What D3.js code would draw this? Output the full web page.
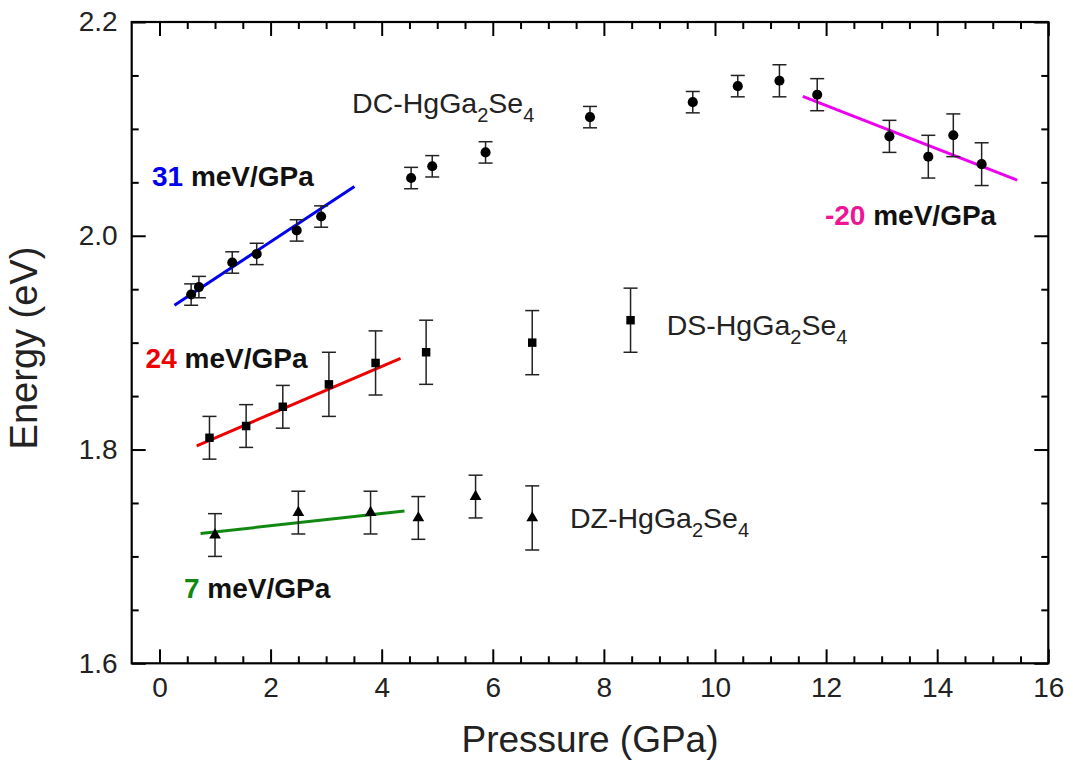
<!DOCTYPE html>
<html>
<head>
<meta charset="utf-8">
<script src="https://cdn.jsdelivr.net/npm/d3@7"></script>
<style>
  body { margin: 0; background: #ffffff; }
  svg text { font-family: "Liberation Sans", Arial, sans-serif; }
</style>
</head>
<body>
<div id="chart"></div>
<script>
'use strict';

// DC-HgGa2Se4 (circles)
var dcP   = [0.57, 0.71, 1.31, 1.75, 2.47, 2.91, 4.53, 4.91, 5.87, 7.75, 9.60, 10.41, 11.16, 11.84, 13.14, 13.84, 14.29, 14.80];
var dcE   = [1.945, 1.952, 1.975, 1.983, 2.005, 2.018, 2.054, 2.065, 2.078, 2.111, 2.125, 2.140, 2.145, 2.132, 2.093, 2.074, 2.094, 2.067];
var dcErr = [0.01, 0.01, 0.01, 0.01, 0.01, 0.01, 0.01, 0.01, 0.01, 0.01, 0.01, 0.01, 0.015, 0.015, 0.015, 0.02, 0.02, 0.02];

// DS-HgGa2Se4 (squares)
var dsP   = [0.90, 1.56, 2.22, 3.05, 3.89, 4.80, 6.71, 8.48];
var dsE   = [1.811, 1.822, 1.840, 1.861, 1.881, 1.891, 1.900, 1.921];
var dsErr = [0.02, 0.02, 0.02, 0.03, 0.03, 0.03, 0.03, 0.03];

// DZ-HgGa2Se4 (triangles)
var dzP   = [1.00, 2.50, 3.80, 4.66, 5.69, 6.71];
var dzE   = [1.720, 1.741, 1.741, 1.736, 1.756, 1.736];
var dzErr = [0.02, 0.02, 0.02, 0.02, 0.02, 0.03];

// linear fits: pressure range and energy at both ends
var fitP = [[0.27, 3.51], [0.67, 4.34], [0.74, 4.41], [11.58, 15.44]];
var fitE = [[1.935, 2.046], [1.8035, 1.8853], [1.7214, 1.7426], [2.1304, 2.0521]];
var fitSlope = ['31', '24', '7', '-20'];

var xTicks = [0, 2, 4, 6, 8, 10, 12, 14, 16];
var yTicks = [1.6, 1.8, 2.0, 2.2];

var W = 1073, H = 765,
    mLeft = 131.7, mRight = 1048.3, mTop = 22, mBottom = 663.3;

var fitColors = ['#0000ee', '#ee0000', '#118811', '#ee00ee'],
    slopeColors = ['#0000ee', '#ee0000', '#118811', '#ee1493'];

var svg = d3.select('#chart').append('svg')
    .attr('width', W)
    .attr('height', H);
svg.append('rect').attr('width', W).attr('height', H).attr('fill', '#ffffff');

var x = d3.scaleLinear().domain([-0.5, 16]).range([mLeft, mRight]),
    y = d3.scaleLinear().domain([1.6, 2.2]).range([mBottom, mTop]);

// ================ axes (inward ticks on all four sides)
var xMinor = d3.range(0, 16.01, 0.5).filter(function(v){ return v % 2 !== 0; }),
    yMinor = d3.range(1.6, 2.201, 0.05).filter(function(v){
        return yTicks.every(function(t){ return Math.abs(t - v) > 1e-6; });
    });

function styleAxis(g){
    g.select('.domain').remove();
    g.selectAll('line').attr('stroke', '#000').attr('stroke-width', 2);
    g.selectAll('text')
        .attr('font-size', '28px')
        .attr('fill', '#222')
        .attr('font-family', '"Liberation Sans", Arial, sans-serif');
}

svg.append('g').attr('transform', 'translate(0,' + mBottom + ')')
    .call(d3.axisBottom(x).tickValues(xTicks).tickSize(-14).tickPadding(14).tickFormat(d3.format('d')))
    .call(styleAxis);
svg.append('g').attr('transform', 'translate(0,' + mBottom + ')')
    .call(d3.axisBottom(x).tickValues(xMinor).tickSize(-7).tickFormat(''))
    .call(styleAxis);
svg.append('g').attr('transform', 'translate(0,' + mTop + ')')
    .call(d3.axisTop(x).tickValues(xTicks).tickSize(-14).tickFormat(''))
    .call(styleAxis);
svg.append('g').attr('transform', 'translate(0,' + mTop + ')')
    .call(d3.axisTop(x).tickValues(xMinor).tickSize(-7).tickFormat(''))
    .call(styleAxis);

svg.append('g').attr('transform', 'translate(' + mLeft + ',0)')
    .call(d3.axisLeft(y).tickValues(yTicks).tickSize(-14).tickPadding(14).tickFormat(d3.format('.1f')))
    .call(styleAxis);
svg.append('g').attr('transform', 'translate(' + mLeft + ',0)')
    .call(d3.axisLeft(y).tickValues(yMinor).tickSize(-7).tickFormat(''))
    .call(styleAxis);
svg.append('g').attr('transform', 'translate(' + mRight + ',0)')
    .call(d3.axisRight(y).tickValues(yTicks).tickSize(-14).tickFormat(''))
    .call(styleAxis);
svg.append('g').attr('transform', 'translate(' + mRight + ',0)')
    .call(d3.axisRight(y).tickValues(yMinor).tickSize(-7).tickFormat(''))
    .call(styleAxis);

svg.append('rect')
    .attr('x', mLeft).attr('y', mTop)
    .attr('width', mRight - mLeft).attr('height', mBottom - mTop)
    .attr('fill', 'none').attr('stroke', '#000').attr('stroke-width', 2.2);

// axis titles
svg.append('text')
    .attr('x', 590).attr('y', 752)
    .attr('text-anchor', 'middle')
    .attr('font-size', '37px').attr('fill', '#222')
    .text('Pressure (GPa)');
svg.append('text')
    .attr('transform', 'translate(37,348) rotate(-90)')
    .attr('text-anchor', 'middle')
    .attr('font-size', '38px').attr('fill', '#222')
    .text('Energy (eV)');

// ================ fit lines
var fits = svg.append('g');
fitP.forEach(function(p, i){
    fits.append('line')
        .attr('x1', x(p[0])).attr('y1', y(fitE[i][0]))
        .attr('x2', x(p[1])).attr('y2', y(fitE[i][1]))
        .attr('stroke', fitColors[i])
        .attr('stroke-width', 3);
});

// ================ error bars + markers
function series(P, E, Err, marker){
    var rows = P.map(function(p, i){ return {p: p, e: E[i], err: Err[i]}; });
    var g = svg.append('g').selectAll('g').data(rows).enter().append('g');
    g.append('line')
        .attr('x1', function(d){ return x(d.p); }).attr('x2', function(d){ return x(d.p); })
        .attr('y1', function(d){ return y(d.e - d.err); }).attr('y2', function(d){ return y(d.e + d.err); })
        .attr('stroke', '#222').attr('stroke-width', 1.5);
    [-1, 1].forEach(function(s){
        g.append('line')
            .attr('x1', function(d){ return x(d.p) - 7; }).attr('x2', function(d){ return x(d.p) + 7; })
            .attr('y1', function(d){ return y(d.e + s * d.err); }).attr('y2', function(d){ return y(d.e + s * d.err); })
            .attr('stroke', '#222').attr('stroke-width', 1.5);
    });
    g.append('path')
        .attr('transform', function(d){ return 'translate(' + x(d.p) + ',' + y(d.e) + ')'; })
        .attr('d', d3.symbol().type(marker.type).size(marker.size))
        .attr('fill', '#000');
}
series(dcP, dcE, dcErr, {type: d3.symbolCircle, size: 80});
series(dsP, dsE, dsErr, {type: d3.symbolSquare, size: 72});
series(dzP, dzE, dzErr, {type: d3.symbolTriangle, size: 60});

// ================ slope labels
var slopePos = [[-0.135, 2.0465], [-0.25, 1.8762], [0.44, 1.661], [11.98, 2.010]];
fitSlope.forEach(function(s, i){
    var t = svg.append('text')
        .attr('x', x(slopePos[i][0])).attr('y', y(slopePos[i][1]))
        .attr('font-size', '28px').attr('font-weight', 'bold').attr('fill', '#111');
    t.append('tspan').attr('fill', slopeColors[i]).text(s);
    t.append('tspan').text(' meV/GPa');
});

// ================ phase labels
var phaseNames = ['DC', 'DS', 'DZ'],
    phasePos = [[3.467, 2.1148], [9.131, 1.9071], [7.39, 1.7264]];
phaseNames.forEach(function(n, i){
    var t = svg.append('text')
        .attr('x', x(phasePos[i][0])).attr('y', y(phasePos[i][1]))
        .attr('font-size', '28.5px').attr('fill', '#222');
    t.append('tspan').text(n + '-HgGa');
    t.append('tspan').attr('font-size', '20px').attr('dy', 9).text('2');
    t.append('tspan').attr('dy', -9).text('Se');
    t.append('tspan').attr('font-size', '20px').attr('dy', 9).text('4');
});
</script>
</body>
</html>
